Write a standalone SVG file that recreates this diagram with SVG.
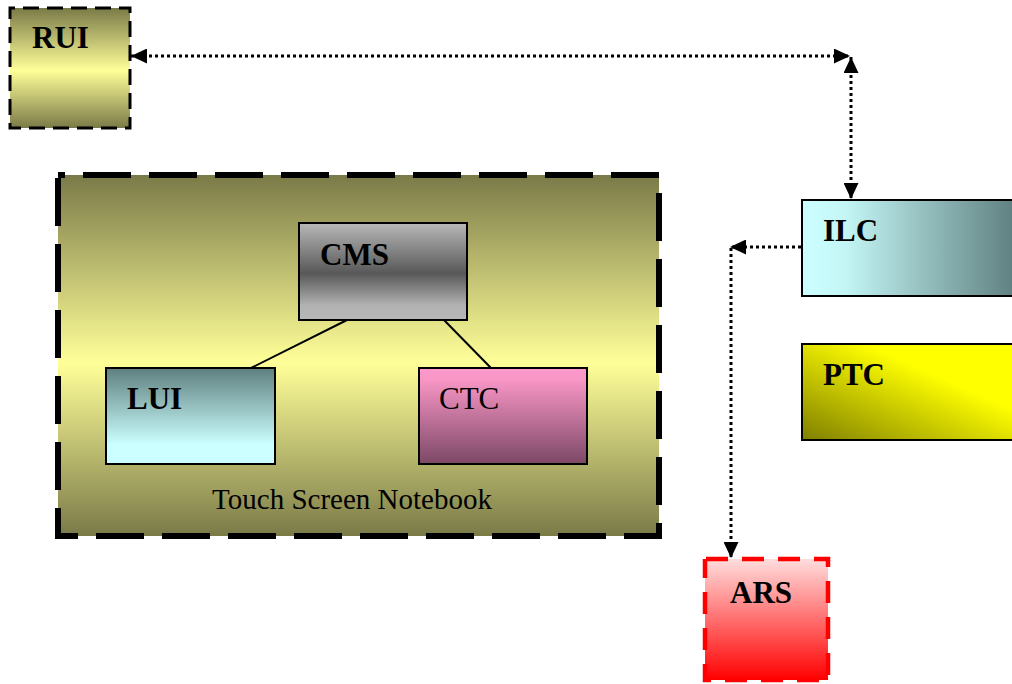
<svg xmlns="http://www.w3.org/2000/svg" width="1012" height="684" viewBox="0 0 1012 684">
<style>
.lbl{font-family:"Liberation Serif","Times New Roman",serif;font-size:31px;font-weight:bold;fill:#000}
.plain{font-family:"Liberation Serif","Times New Roman",serif;font-size:31px;fill:#000}
.cap{font-family:"Liberation Serif","Times New Roman",serif;font-size:29px;fill:#000}
.box{stroke:#000;stroke-width:2}
.dot{fill:none;stroke:#000;stroke-width:3;stroke-dasharray:3 3}
.solid{fill:none;stroke:#000;stroke-width:2}
</style>
<defs>
<linearGradient id="gOlive" x1="0" y1="0" x2="0" y2="1">
<stop offset="0" stop-color="#7a7a48"/>
<stop offset="0.52" stop-color="#ffff99"/>
<stop offset="1" stop-color="#7a7a48"/>
</linearGradient>
<linearGradient id="gCms" x1="0" y1="0" x2="0" y2="1">
<stop offset="0" stop-color="#b8b8b8"/>
<stop offset="0.52" stop-color="#585858"/>
<stop offset="0.85" stop-color="#b2b2b2"/>
<stop offset="1" stop-color="#b8b8b8"/>
</linearGradient>
<linearGradient id="gLui" x1="0" y1="0" x2="0" y2="1">
<stop offset="0" stop-color="#5f7f7f"/>
<stop offset="0.8" stop-color="#ccffff"/>
<stop offset="1" stop-color="#ccffff"/>
</linearGradient>
<linearGradient id="gCtc" x1="0" y1="0" x2="0" y2="1">
<stop offset="0" stop-color="#ff99cc"/>
<stop offset="0.12" stop-color="#f896c6"/>
<stop offset="1" stop-color="#7c4866"/>
</linearGradient>
<linearGradient id="gIlc" x1="0" y1="0" x2="1" y2="0">
<stop offset="0" stop-color="#ccffff"/>
<stop offset="0.2" stop-color="#c4f6f6"/>
<stop offset="1" stop-color="#5f7f7f"/>
</linearGradient>
<linearGradient id="gPtc" x1="0" y1="1" x2="1" y2="0">
<stop offset="0" stop-color="#7f7f00"/>
<stop offset="0.65" stop-color="#ffff00"/>
<stop offset="1" stop-color="#ffff00"/>
</linearGradient>
<linearGradient id="gArs" x1="0" y1="0" x2="0" y2="1">
<stop offset="0" stop-color="#ffdddd"/>
<stop offset="1" stop-color="#ff0000"/>
</linearGradient>
<marker id="arr" markerUnits="userSpaceOnUse" markerWidth="16" markerHeight="15" refX="16" refY="7.5" orient="auto-start-reverse" viewBox="0 0 16 15">
<path d="M0,0 L16,7.5 L0,15 z" fill="#000"/>
</marker>
</defs>

<g id="notebook">
<rect x="58" y="175" width="601" height="361" fill="url(#gOlive)" stroke="#000" stroke-width="6" stroke-dasharray="48 18" stroke-dashoffset="41"/>
<text class="cap" x="352" y="509" text-anchor="middle">Touch Screen Notebook</text>
</g>

<g id="rui">
<rect x="10" y="8" width="120" height="120" fill="url(#gOlive)" stroke="#000" stroke-width="3" stroke-dasharray="16 8" stroke-dashoffset="11"/>
<text class="lbl" x="32" y="48">RUI</text>
</g>

<g id="cms">
<rect class="box" x="299" y="223" width="168" height="97" fill="url(#gCms)"/>
<text class="lbl" x="320" y="265">CMS</text>
</g>

<g id="lui">
<rect class="box" x="106" y="368" width="169" height="96" fill="url(#gLui)"/>
<text class="lbl" x="127" y="409">LUI</text>
</g>

<g id="ctc">
<rect class="box" x="419" y="368" width="168" height="96" fill="url(#gCtc)"/>
<text class="plain" x="439" y="409">CTC</text>
</g>

<g id="ilc">
<rect class="box" x="802" y="200" width="214" height="96" fill="url(#gIlc)"/>
<text class="lbl" x="823" y="241">ILC</text>
</g>

<g id="ptc">
<rect class="box" x="802" y="344" width="214" height="96" fill="url(#gPtc)"/>
<text class="lbl" x="823" y="385">PTC</text>
</g>

<g id="ars">
<rect x="705" y="559" width="123" height="121" fill="url(#gArs)" stroke="#ff0000" stroke-width="4.5" stroke-dasharray="22 14" stroke-dashoffset="35"/>
<text class="lbl" x="730" y="603">ARS</text>
</g>

<g id="connectors">
<line class="solid" x1="347" y1="320" x2="251" y2="368"/>
<line class="solid" x1="444" y1="320" x2="491" y2="368"/>
<line class="dot" x1="131" y1="56" x2="850" y2="56" marker-start="url(#arr)" marker-end="url(#arr)"/>
<line class="dot" x1="851" y1="57" x2="851" y2="199" marker-start="url(#arr)" marker-end="url(#arr)"/>
<line class="dot" x1="801" y1="247" x2="730" y2="247" marker-end="url(#arr)"/>
<line class="dot" x1="731" y1="248" x2="731" y2="558" marker-end="url(#arr)"/>
</g>
</svg>
